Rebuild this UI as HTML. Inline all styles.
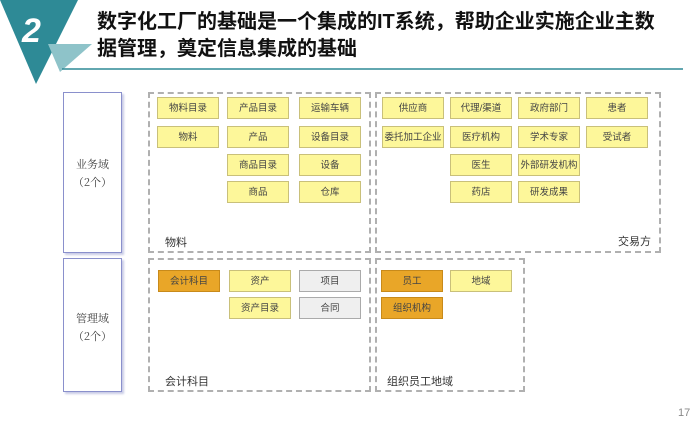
<!DOCTYPE html><html><head><meta charset="utf-8"><style>
body{margin:0;width:697px;height:427px;background:#fff;position:relative;overflow:hidden;font-family:"Liberation Sans","Noto Sans CJK SC",sans-serif}
.a{position:absolute}
.c{position:absolute;width:62px;height:22px;background:#fdf79a;border:1px solid #c9c07a;box-sizing:border-box;font-size:9.5px;color:#444;text-align:center;line-height:21px;white-space:nowrap}
.o{background:#e9a628;border-color:#c88a1a}
.g{background:#efefef;border-color:#aaa}
.d{position:absolute;border:2px dashed #b0b0b0;box-sizing:border-box}
.l{position:absolute;font-size:11px;color:#333}
.s{position:absolute;border:1px solid #8a90cc;box-shadow:2px 2px 2px #c8cbe6;box-sizing:border-box;font-size:11px;color:#444;text-align:center;font-family:"Noto Serif CJK SC",serif}
</style></head><body>
<svg class="a" style="left:0;top:0" width="697" height="90">
<polygon points="0,0 78,0 36,84" fill="#2e8a96"/>
<polygon points="48,44 92,44 60,72" fill="#8ec3c9"/>
<line x1="62" y1="69" x2="683" y2="69" stroke="#2e8a96" stroke-width="1.5"/>
<text x="22" y="42" font-size="34" font-weight="bold" font-style="italic" fill="#fff" font-family="Liberation Sans">2</text>
</svg>
<div class="a" style="left:97px;top:9px;font-size:20px;font-weight:bold;line-height:27px;color:#111;font-family:'Liberation Sans','Noto Sans CJK SC',sans-serif">数字化工厂的基础是一个集成的IT系统，帮助企业实施企业主数<br>据管理，奠定信息集成的基础</div>
<div class="s" style="left:63px;top:92px;width:59px;height:161px;padding-top:62px;line-height:18px">业务域<br>（2个）</div>
<div class="s" style="left:63px;top:258px;width:59px;height:134px;padding-top:50px;line-height:18px">管理域<br>（2个）</div>
<div class="d" style="left:148px;top:92px;width:223px;height:161px"></div>
<div class="d" style="left:375px;top:92px;width:286px;height:161px"></div>
<div class="d" style="left:148px;top:258px;width:223px;height:134px"></div>
<div class="d" style="left:375px;top:258px;width:150px;height:134px"></div>
<div class="l" style="left:165px;top:234px">物料</div>
<div class="l" style="left:618px;top:233px">交易方</div>
<div class="l" style="left:165px;top:373px">会计科目</div>
<div class="l" style="left:387px;top:373px">组织员工地域</div>
<div class="c" style="left:157px;top:97px">物料目录</div>
<div class="c" style="left:227px;top:97px">产品目录</div>
<div class="c" style="left:299px;top:97px">运输车辆</div>
<div class="c" style="left:157px;top:126px">物料</div>
<div class="c" style="left:227px;top:126px">产品</div>
<div class="c" style="left:299px;top:126px">设备目录</div>
<div class="c" style="left:227px;top:154px">商品目录</div>
<div class="c" style="left:299px;top:154px">设备</div>
<div class="c" style="left:227px;top:181px">商品</div>
<div class="c" style="left:299px;top:181px">仓库</div>
<div class="c" style="left:382px;top:97px">供应商</div>
<div class="c" style="left:450px;top:97px">代理/渠道</div>
<div class="c" style="left:518px;top:97px">政府部门</div>
<div class="c" style="left:586px;top:97px">患者</div>
<div class="c" style="left:382px;top:126px">委托加工企业</div>
<div class="c" style="left:450px;top:126px">医疗机构</div>
<div class="c" style="left:518px;top:126px">学术专家</div>
<div class="c" style="left:586px;top:126px">受试者</div>
<div class="c" style="left:450px;top:154px">医生</div>
<div class="c" style="left:518px;top:154px">外部研发机构</div>
<div class="c" style="left:450px;top:181px">药店</div>
<div class="c" style="left:518px;top:181px">研发成果</div>
<div class="c o" style="left:158px;top:270px">会计科目</div>
<div class="c" style="left:229px;top:270px">资产</div>
<div class="c g" style="left:299px;top:270px">项目</div>
<div class="c" style="left:229px;top:297px">资产目录</div>
<div class="c g" style="left:299px;top:297px">合同</div>
<div class="c o" style="left:381px;top:270px">员工</div>
<div class="c" style="left:450px;top:270px">地域</div>
<div class="c o" style="left:381px;top:297px">组织机构</div>
<div class="a" style="left:678px;top:407px;font-size:11px;color:#888">17</div>
</body></html>
